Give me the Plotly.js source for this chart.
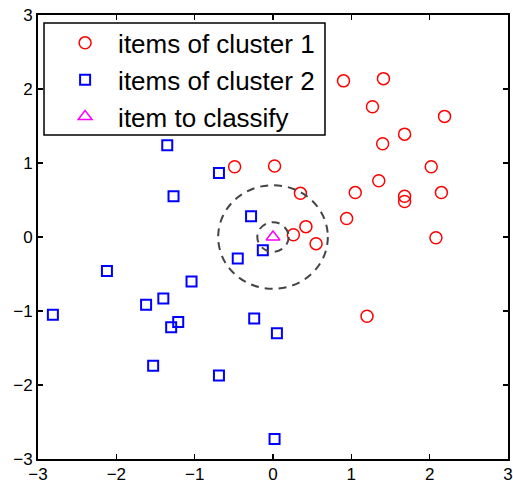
<!DOCTYPE html>
<html>
<head>
<meta charset="utf-8">
<script src="https://cdn.plot.ly/plotly-3.0.1.min.js"></script>
<style>html,body{margin:0;padding:0;background:#fff;}#chart{width:513px;height:483px;}</style>
</head>
<body>
<div id="chart"></div>
<script>
// Cluster 1 (red circles)
var cluster1X = [0.90, 1.41, 1.27, 2.19, 1.68, 1.40, 0.02, -0.49, 2.02, 1.35, 0.35, 1.05, 1.68, 1.68, 2.15, 0.94, 0.42, 0.26, 0.55, 2.08, 1.20];
var cluster1Y = [2.11, 2.14, 1.76, 1.63, 1.39, 1.26, 0.96, 0.95, 0.95, 0.76, 0.59, 0.60, 0.55, 0.48, 0.60, 0.25, 0.14, 0.03, -0.09, -0.01, -1.07];
// Cluster 2 (blue squares)
var cluster2X = [-1.35, -0.69, -1.27, -0.28, -2.12, -0.45, -1.04, -2.81, -1.62, -1.40, -1.21, -1.30, -1.53, -0.69, -0.24, -0.13, 0.05, 0.02];
var cluster2Y = [1.24, 0.865, 0.55, 0.28, -0.46, -0.29, -0.60, -1.05, -0.915, -0.83, -1.15, -1.22, -1.74, -1.87, -1.10, -0.18, -1.30, -2.73];
// Item to classify
var queryX = [0.0];
var queryY = [0.0];
// Neighbourhood circles (centre at the query item)
var radii = [0.7, 0.2];
var seriesNames = ["items of cluster 1", "items of cluster 2", "item to classify"];
var tickValues = [-3, -2, -1, 0, 1, 2, 3];

var traces = [
  {x: cluster1X, y: cluster1Y, mode: "markers", type: "scatter", name: seriesNames[0],
   marker: {symbol: "circle-open", size: 12, color: "#ff0000", line: {width: 1.5}}},
  {x: cluster2X, y: cluster2Y, mode: "markers", type: "scatter", name: seriesNames[1],
   marker: {symbol: "square-open", size: 10, color: "#0000ff", line: {width: 2}}},
  {x: queryX, y: queryY, mode: "markers", type: "scatter", name: seriesNames[2],
   marker: {symbol: "triangle-up-open", size: 12, color: "#ff00ff", line: {width: 1.5}}}
];

var shapes = radii.map(function (r) {
  return {type: "circle", xref: "x", yref: "y",
          x0: queryX[0] - r, x1: queryX[0] + r, y0: queryY[0] - r, y1: queryY[0] + r,
          line: {color: "#444444", width: 2, dash: "8px,6px"}, layer: "above"};
});
// legend box
shapes.push({type: "rect", xref: "paper", yref: "paper", x0: 0.0128, x1: 0.6106, y0: 0.7297, y1: 0.982,
             fillcolor: "#ffffff", line: {color: "#000000", width: 1.5}, layer: "below"});

var axisCommon = {
  range: [-3, 3], tickvals: tickValues, ticks: "inside", ticklen: 5, tickwidth: 1.2, tickcolor: "#000",
  showline: true, linecolor: "#000", linewidth: 2, mirror: "ticks",
  showgrid: false, zeroline: false, fixedrange: true, ticklabeloverflow: "allow",
  tickfont: {family: "Liberation Sans, Arial, sans-serif", size: 17, color: "#000"}
};

var layout = {
  width: 513, height: 483,
  margin: {l: 38, r: 5, t: 15, b: 24, pad: 0},
  paper_bgcolor: "#fff", plot_bgcolor: "#fff",
  xaxis: Object.assign({}, axisCommon, {ticklabelstandoff: -1}),
  yaxis: Object.assign({}, axisCommon),
  showlegend: true,
  legend: {x: 0.03, y: 0.99, xanchor: "left", yanchor: "top", bgcolor: "rgba(0,0,0,0)", borderwidth: 0,
           itemwidth: 56, font: {family: "Liberation Sans, Arial, sans-serif", size: 26, color: "#000"}},
  shapes: shapes
};

Plotly.newPlot("chart", traces, layout, {displayModeBar: false, staticPlot: true});
</script>
</body>
</html>
